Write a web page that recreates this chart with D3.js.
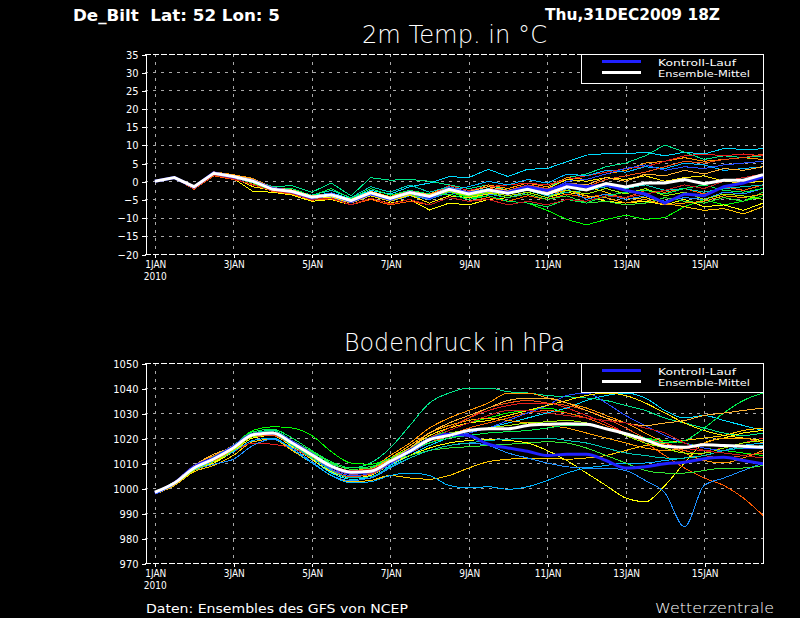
<!DOCTYPE html>
<html>
<head>
<meta charset="utf-8">
<script src="https://cdn.jsdelivr.net/npm/d3@7"></script>
<style>
  body { margin: 0; background: #000; }
  svg { display: block; background: #000; }
  text { white-space: pre; }
</style>
</head>
<body>
<div id="vis"></div>
<script>
const FRAME_WIDTH = 800;
const FRAME_HEIGHT = 618;
const PLOT_LEFT = 145;
const PLOT_RIGHT = 763;

// run start and step of the ensemble output
const RUN_START = Date.UTC(2009, 11, 31, 18);
const RUN_END = Date.UTC(2010, 0, 16, 12);
const FIRST_STEP = Date.UTC(2010, 0, 1, 0);
const STEP_HOURS = 12;

const TICK_DAYS = [1, 3, 5, 7, 9, 11, 13, 15];
const TICK_LABELS = ["1JAN", "3JAN", "5JAN", "7JAN", "9JAN", "11JAN", "13JAN", "15JAN"];
const TEMP_TICKS = [-20, -15, -10, -5, 0, 5, 10, 15, 20, 25, 30, 35];
const PRES_TICKS = [970, 980, 990, 1000, 1010, 1020, 1030, 1040, 1050];

const MEMBER_COLORS = ["#00dcff", "#00e68c", "#00ff00", "#ffff00", "#ffc800",
                       "#ff9600", "#ff5a00", "#e61e1e", "#1e90ff", "#00b4ff",
                       "#2850ff", "#32e632", "#ffe600", "#ffa000", "#f05014",
                       "#00c8b4", "#00f050", "#a0f000", "#ffb432", "#c81e1e"];

// 2m temperature, 12-hourly from 1 JAN 00Z
const TEMP_MEAN = [0, 1.0, -1.5, 2.2, 1.3, 0.0, -2.2, -2.8, -4.4, -3.7, -5.3, -3.2, -4.7, -3.1, -4.2, -2.2,
                   -3.5, -2.4, -3.3, -2.2, -3.5, -1.5, -2.4, -0.6, -1.6, -0.5, -0.5, 0.5, -0.7, 0.3, 0.3, 1.8];
const TEMP_CTRL = [0, 1.0, -1.6, 2.3, 1.2, 0.1, -2.0, -2.9, -4.6, -3.5, -5.6, -3.4, -5.0, -3.0, -4.5, -2.0,
                   -3.2, -2.5, -3.0, -1.5, -2.5, -0.8, -1.5, -1.0, -2.5, -3.5, -6.0, -3.5, -4.0, -1.5, -0.5, 1.3];
const T01 = [0, 1.1, -1.4, 2.4, 1.5, 0.3, -1.8, -2.5, -4.0, -3.2, -4.8, -2.5, -3.5, -1.5, -0.5, 1.3,
             1.0, 3.3, 1.3, 3.3, 3.5, 5.4, 7.2, 7.6, 7.5, 8.0, 7.0, 8.0, 7.5, 9.0, 8.8, 8.9];
const T02 = [0, 1.0, -1.3, 2.5, 1.6, 0.5, -1.5, -1.2, -3.0, -0.5, -4.0, 1.0, 0.3, 0.5, 0.0, -1.0,
             -2.0, -1.0, -2.5, -1.5, -2.0, 1.0, 2.0, 4.0, 5.0, 7.0, 10.0, 8.0, 6.0, 7.0, 6.5, 7.0];
const T03 = [0, 0.9, -1.7, 2.0, 1.0, -0.5, -2.5, -3.2, -4.8, -4.2, -6.0, -4.0, -5.5, -4.0, -5.0, -3.0,
             -4.5, -4.0, -5.5, -6.0, -8.0, -10.5, -12.0, -10.5, -9.3, -10.5, -10.0, -7.0, -5.0, -6.5, -5.5, -4.0];
const T04 = [0, 0.8, -2.0, 1.8, 0.8, -2.8, -3.0, -3.8, -5.5, -5.0, -6.5, -4.8, -6.0, -5.0, -7.9, -6.0,
             -6.5, -5.0, -4.5, -3.0, -4.5, -3.0, -4.0, -5.5, -6.0, -5.5, -6.5, -5.0, -7.0, -6.5, -8.0, -6.0];
const T05 = [0, 1.0, -1.5, 2.2, 1.2, 0.0, -2.3, -3.0, -4.5, -4.0, -5.5, -3.8, -5.0, -3.5, -5.0, -3.0,
             -4.0, -3.0, -3.5, -2.5, -3.0, -1.0, -1.5, -3.0, -5.0, -4.5, -6.0, -7.0, -8.0, -7.5, -9.0, -7.0];
const T06 = [0, 1.2, -1.5, 2.6, 1.8, 0.8, -1.8, -2.5, -4.0, -3.5, -5.0, -2.8, -4.2, -2.5, -3.5, -1.5,
             -3.0, -1.0, -2.0, -0.5, -1.5, 1.0, 0.5, 2.0, 3.0, 5.0, 5.5, 6.5, 5.5, 6.0, 6.5, 6.0];
const T07 = [0, 0.9, -2.2, 1.5, 0.5, -0.8, -2.8, -3.5, -5.2, -4.8, -6.5, -5.0, -6.5, -5.5, -6.5, -4.5,
             -5.5, -4.5, -5.5, -4.0, -5.0, -3.5, -4.5, -3.5, -4.5, -2.5, -3.0, -2.0, -3.5, -1.5, -2.5, -1.0];
const T08 = [0, 1.0, -1.6, 2.3, 1.4, 0.2, -2.0, -2.6, -4.3, -3.5, -5.0, -3.0, -4.5, -2.8, -3.8, -1.2,
             -2.5, -1.5, -1.0, -0.5, -1.0, 0.5, 1.5, 2.5, 3.5, 4.0, 5.5, 7.0, 7.5, 7.0, 7.5, 7.0];
const T09 = [0, 1.0, -1.5, 2.0, 1.0, -0.2, -2.5, -3.2, -5.0, -4.5, -6.0, -4.0, -5.5, -4.0, -5.0, -3.0,
             -4.0, -3.5, -4.5, -3.0, -4.5, -2.0, -5.0, -3.5, -5.0, -4.0, -5.5, -4.5, -5.0, -3.0, -3.5, -2.0];
const T10 = [0, 1.1, -1.4, 2.3, 1.3, 0.0, -2.1, -2.9, -4.6, -3.8, -5.4, -3.5, -4.8, -3.3, -4.4, -2.5,
             -1.5, 0.0, -1.0, 0.5, -0.5, 2.0, 1.5, 3.0, 2.5, 4.0, 3.5, 5.0, 4.5, 3.0, 3.5, 4.0];
const T11 = [0, 1.0, -1.5, 2.1, 1.2, -0.1, -2.3, -3.0, -4.7, -4.0, -5.8, -3.8, -5.2, -3.5, -4.7, -2.6,
             -3.8, -2.8, -3.6, -2.0, -3.0, 0.0, 0.5, 2.0, 3.5, 4.5, 3.0, 4.0, 3.5, 4.5, 5.0, 5.5];
const T12 = [0, 0.9, -1.8, 2.0, 1.0, -0.4, -2.4, -3.1, -4.6, -3.9, -5.7, -3.6, -5.3, -3.8, -4.6, -2.8,
             -4.2, -3.2, -4.5, -3.5, -5.0, -4.0, -6.0, -5.5, -6.5, -6.0, -4.5, -5.5, -6.0, -4.5, -5.5, -3.0];
const T13 = [0, 1.0, -1.7, 2.1, 1.1, -1.5, -2.5, -3.3, -5.0, -4.3, -6.0, -4.0, -5.5, -3.8, -6.0, -4.0,
             -4.5, -3.5, -3.0, -1.5, -2.0, 0.5, 0.0, 1.0, 0.5, 1.5, 0.0, 1.0, 1.5, 0.0, -0.5, 0.0];
const T14 = [0, 1.1, -1.3, 2.4, 1.5, 0.4, -1.9, -2.6, -4.2, -3.6, -5.2, -3.2, -4.6, -2.9, -4.0, -2.0,
             -3.5, -2.0, -3.0, -2.0, -3.5, -2.5, -4.0, -4.5, -6.0, -5.0, -6.5, -6.0, -5.5, -4.0, -4.5, -3.5];
const T15 = [0, 1.0, -1.6, 2.2, 1.3, 0.1, -2.1, -2.8, -4.5, -3.9, -5.5, -3.4, -4.9, -3.4, -4.3, -2.0,
             -3.0, -2.0, -2.5, -1.0, -2.0, -1.0, -1.5, 0.5, 1.5, 2.5, 4.0, 5.5, 5.0, 6.0, 6.5, 7.5];
const T16 = [0, 1.0, -1.5, 2.3, 1.4, 0.3, -1.8, -2.4, -3.8, -2.5, -4.5, -1.5, -3.0, -1.0, -3.0, -1.5,
             -3.0, -2.0, -3.5, -2.5, -4.0, -3.0, -2.5, -1.5, -2.0, -1.0, -2.5, -2.0, -3.0, -2.0, -1.5, -1.0];
const T17 = [0, 0.9, -1.6, 2.1, 1.1, -0.3, -2.2, -2.0, -4.0, -2.0, -4.8, -2.0, -3.8, -2.5, -3.5, -3.5,
             -5.0, -4.0, -5.5, -6.0, -7.0, -5.0, -6.0, -4.0, -3.0, -2.5, -3.5, -2.0, -1.0, -2.5, -3.0, -2.0];
const T18 = [0, 1.0, -1.5, 2.2, 1.2, -0.2, -2.3, -3.0, -4.5, -3.8, -5.5, -3.6, -5.0, -3.6, -4.5, -2.8,
             -4.0, -3.0, -4.0, -3.0, -4.5, -2.5, -3.5, -2.0, -3.5, -2.0, -4.0, -3.0, -5.0, -3.5, -4.0, -5.0];
const T19 = [0, 1.2, -1.4, 2.5, 1.6, 0.6, -1.7, -2.4, -4.0, -3.4, -5.0, -2.9, -4.4, -2.7, -3.7, -1.8,
             -2.8, -1.5, -2.5, -1.5, -3.0, -0.5, -1.0, 1.0, 0.0, 2.0, 1.5, 3.0, 2.0, 3.5, 3.0, 4.0];
const T20 = [0, 0.9, -2.0, 1.7, 0.7, -1.0, -2.6, -3.3, -5.0, -4.6, -6.5, -4.6, -6.2, -5.0, -6.5, -4.5,
             -5.5, -5.0, -6.5, -5.5, -6.5, -5.0, -5.5, -4.0, -4.5, -3.5, -2.5, -1.0, -2.0, 0.0, 1.0, 2.0];

// surface pressure, 12-hourly from 1 JAN 00Z
const PRES_MEAN = [998.3, 1002, 1008, 1011.6, 1016, 1021.3, 1022, 1018, 1013.3, 1008.7, 1006.3, 1006.7, 1010.7, 1014.7, 1019.3, 1021,
                   1023, 1023.7, 1023.7, 1025, 1025.5, 1025.7, 1025.5, 1023.7, 1021.7, 1019.3, 1016.7, 1016.3, 1017.3, 1017, 1016.7, 1016.3];
const PRES_CTRL = [998, 1002, 1008.5, 1012, 1016.5, 1021.5, 1022, 1018.5, 1013.5, 1008.5, 1006, 1006.5, 1010.5, 1015, 1019.5, 1021.5,
                   1021, 1017.5, 1016, 1014.7, 1013, 1013.5, 1013.5, 1011, 1008, 1008.5, 1009.7, 1010.3, 1011.7, 1012.3, 1011, 1009.7];
const P01 = [998, 1002, 1007.5, 1011, 1015.5, 1020.5, 1021.5, 1017, 1011.5, 1006, 1003.5, 1004, 1009, 1013, 1017, 1020,
             1022, 1024, 1026, 1028, 1030, 1032, 1035, 1037, 1038, 1036, 1031, 1028, 1029, 1027, 1025, 1023];
const P02 = [998.5, 1002.5, 1008.5, 1012, 1016.5, 1022, 1023, 1019, 1014, 1009.5, 1008, 1010, 1016, 1025, 1034, 1038,
             1040, 1040, 1038.5, 1038, 1037, 1036.5, 1036, 1035, 1033, 1031, 1028, 1026, 1024, 1022, 1021, 1022];
const P03 = [998.5, 1002, 1008, 1012.5, 1017, 1023, 1024.5, 1024, 1021, 1014.5, 1010, 1009.5, 1012, 1016, 1020, 1023,
             1026, 1028, 1030, 1031, 1032, 1030, 1028, 1025, 1022, 1020, 1019, 1018, 1016, 1015, 1014, 1013];
const P04 = [998, 1001.5, 1007, 1010, 1014.5, 1020, 1021, 1016.5, 1011.5, 1006.5, 1004, 1005, 1009.5, 1013, 1016, 1018,
             1019, 1019.5, 1019, 1018, 1015, 1011, 1006, 1001, 996, 994.5, 1001, 1010, 1018, 1020, 1022, 1023];
const P05 = [997.5, 1001, 1006.5, 1009, 1013, 1018.5, 1019.5, 1015, 1010, 1005, 1002.5, 1003, 1005, 1004, 1003.5, 1005,
             1008, 1010.5, 1011.5, 1012, 1012, 1011.5, 1012, 1013, 1015, 1017, 1018, 1019, 1020, 1021, 1023, 1024];
const P06 = [998.5, 1002.5, 1009, 1013, 1017, 1022, 1022.5, 1018.5, 1013.5, 1009, 1007, 1008, 1013, 1018, 1024, 1028,
             1031, 1034, 1038, 1038, 1036, 1034, 1032, 1029, 1026, 1022, 1018, 1014, 1011, 1010, 1012, 1015];
const P07 = [998, 1002, 1008, 1011.5, 1016, 1021, 1022, 1017.5, 1013, 1008, 1005.5, 1006, 1010, 1014, 1018, 1021,
             1024, 1026, 1028, 1030, 1031, 1030, 1028, 1025, 1022, 1018, 1013, 1008, 1004, 1001, 996, 989];
const P08 = [998, 1001.5, 1007, 1010.5, 1014.5, 1018, 1017.5, 1016, 1012, 1008, 1006, 1007, 1011, 1015, 1020, 1024,
             1028, 1031, 1033, 1034, 1034, 1032, 1029, 1026, 1022, 1020, 1018, 1016, 1015, 1016, 1018, 1020];
const P09 = [998, 1001.5, 1007, 1009.5, 1011.5, 1017, 1019.5, 1016, 1010.5, 1005, 1003, 1004, 1008, 1012, 1015, 1017,
             1018, 1017, 1014, 1012, 1010, 1008.5, 1008, 1008, 1007, 1003, 998, 984.5, 1001, 1004, 1007, 1010];
const P10 = [997.5, 1001.5, 1007.5, 1010.5, 1014.5, 1019, 1020, 1015.5, 1010, 1005, 1002, 1002.5, 1005, 1006, 1005, 1001,
             1000, 1000.5, 999.5, 1000.5, 1003, 1006, 1008, 1009, 1010, 1010, 1011, 1012, 1013, 1015, 1017, 1018];
const P11 = [998, 1002, 1008, 1011.5, 1016, 1021, 1021.5, 1017.5, 1012.5, 1007.5, 1005, 1005.5, 1009.5, 1014, 1018, 1020,
             1022, 1024, 1027, 1030, 1033, 1037, 1038, 1034, 1029, 1025, 1021, 1018, 1016, 1015, 1016, 1016];
const P12 = [998.5, 1002.5, 1008.5, 1012, 1016.5, 1022, 1022.5, 1019, 1014.5, 1010, 1007.5, 1008, 1011, 1013, 1015, 1016,
             1016.5, 1017, 1017.5, 1018, 1018.5, 1018, 1016, 1013, 1010, 1007, 1006, 1006, 1007, 1008, 1008, 1009];
const P13 = [998, 1002, 1008, 1011.5, 1015.5, 1021, 1022, 1017.5, 1012.5, 1008, 1006, 1007, 1011, 1016, 1021, 1024,
             1026, 1027, 1029, 1031, 1033, 1035, 1037, 1038, 1037, 1034, 1030, 1026, 1023, 1021, 1020, 1019];
const P14 = [998.5, 1002, 1008, 1012, 1016, 1021.5, 1022, 1018, 1013, 1008.5, 1006.5, 1007.5, 1012, 1017, 1022, 1025,
             1027, 1028, 1027, 1026, 1025, 1024, 1022, 1020, 1018, 1016, 1015, 1016, 1018, 1020, 1020, 1018];
const P15 = [998, 1002, 1008, 1011, 1015.5, 1020.5, 1021, 1017, 1012, 1007, 1004.5, 1005.5, 1010, 1015, 1020, 1024,
             1028, 1032, 1034, 1035, 1034, 1033, 1031, 1028, 1024, 1020, 1017, 1015, 1013, 1012, 1013, 1014];
const P16 = [998, 1002, 1008, 1012, 1016, 1021, 1021.5, 1017, 1012, 1007, 1004, 1004.5, 1008.5, 1012, 1015, 1017,
             1018, 1019, 1019.5, 1020, 1020, 1019, 1018, 1016, 1014, 1013, 1012, 1012, 1013, 1015, 1016, 1017];
const P17 = [998.5, 1002.5, 1008.5, 1012.5, 1017, 1022.5, 1023.5, 1020, 1015, 1010.5, 1008, 1008.5, 1012, 1015, 1018, 1020,
             1021, 1022, 1022.5, 1023, 1024, 1025, 1025, 1024, 1022, 1020, 1018, 1019, 1024, 1030, 1035, 1038];
const P18 = [998, 1001.5, 1007, 1010.5, 1015, 1020.5, 1021.5, 1017.5, 1012.5, 1008, 1006, 1007, 1011.5, 1016, 1020, 1022,
             1023, 1024, 1025, 1026, 1026.5, 1027, 1026, 1024, 1021, 1018, 1016, 1014, 1014, 1016, 1018, 1019];
const P19 = [998.5, 1002.5, 1009, 1013.5, 1016.5, 1021.5, 1022, 1018, 1013, 1008.5, 1006, 1006.5, 1011, 1016, 1022, 1026,
             1029, 1032, 1035, 1036, 1036, 1034, 1031, 1028, 1026, 1025, 1026, 1027, 1029, 1030, 1031, 1032];
const P20 = [998, 1002, 1008, 1011.5, 1016, 1021, 1021.5, 1018, 1013.5, 1009, 1007, 1007.5, 1011, 1015, 1019, 1023,
             1026, 1029, 1031, 1031, 1030, 1029, 1028, 1027, 1026, 1024, 1022, 1018, 1015, 1014, 1013, 1012];

const TEMP_MEMBERS = [T01, T02, T03, T04, T05, T06, T07, T08, T09, T10, T11, T12, T13, T14, T15, T16, T17, T18, T19, T20];
const PRES_MEMBERS = [P01, P02, P03, P04, P05, P06, P07, P08, P09, P10, P11, P12, P13, P14, P15, P16, P17, P18, P19, P20];

const FONT = "DejaVu Sans";

const SVG = d3.select("#vis")
              .append("svg")
                .attr("width", FRAME_WIDTH)
                .attr("height", FRAME_HEIGHT);

const X_SCALE = d3.scaleUtc()
                  .domain([new Date(RUN_START), new Date(RUN_END)])
                  .range([PLOT_LEFT, PLOT_RIGHT]);

const TICK_DATES = TICK_DAYS.map((d) => new Date(Date.UTC(2010, 0, d)));

function timeAt(i) {
    return new Date(FIRST_STEP + i * STEP_HOURS * 3600 * 1000);
}

function addText(x, y, str, size, opts) {
    opts = opts || {};
    const t = SVG.append("text")
        .attr("x", x)
        .attr("y", y)
        .attr("fill", "#fff")
        .attr("font-family", FONT)
        .attr("font-size", size)
        .attr("font-weight", opts.weight || "normal")
        .text(str);
    if (opts.len) {
        t.attr("textLength", opts.len).attr("lengthAdjust", "spacingAndGlyphs");
    }
    return t;
}

function panel(cfg) {
    const Y_SCALE = d3.scaleLinear()
                      .domain([cfg.ticks[0], cfg.ticks[cfg.ticks.length - 1]])
                      .range([cfg.bottom, cfg.top]);

    SVG.append("clipPath")
        .attr("id", cfg.id)
      .append("rect")
        .attr("x", PLOT_LEFT)
        .attr("y", cfg.top)
        .attr("width", PLOT_RIGHT - PLOT_LEFT)
        .attr("height", cfg.bottom - cfg.top);

    // dotted grid
    const grid = SVG.append("g")
        .attr("stroke", "#a8a8a8")
        .attr("stroke-width", 1)
        .attr("stroke-dasharray", "3,5")
        .attr("shape-rendering", "crispEdges");

    grid.selectAll(".hgrid")
        .data(cfg.ticks.slice(1, -1))
        .enter()
        .append("line")
          .attr("x1", PLOT_LEFT)
          .attr("x2", PLOT_RIGHT)
          .attr("y1", (d) => Math.round(Y_SCALE(d)) + 0.5)
          .attr("y2", (d) => Math.round(Y_SCALE(d)) + 0.5);

    grid.selectAll(".vgrid")
        .data(TICK_DATES)
        .enter()
        .append("line")
          .attr("x1", (d) => Math.round(X_SCALE(d)) + 0.5)
          .attr("x2", (d) => Math.round(X_SCALE(d)) + 0.5)
          .attr("y1", cfg.top)
          .attr("y2", cfg.bottom);

    // ensemble members, then control run and mean
    const line = d3.line()
        .x((d, i) => X_SCALE(timeAt(i)))
        .y((d) => Y_SCALE(d))
        .curve(cfg.curve);

    const lines = SVG.append("g").attr("clip-path", "url(#" + cfg.id + ")");

    lines.selectAll(".member")
        .data(cfg.members)
        .enter()
        .append("path")
          .attr("d", line)
          .attr("fill", "none")
          .attr("stroke", (d, i) => MEMBER_COLORS[i])
          .attr("stroke-width", 1)
          .attr("shape-rendering", "crispEdges");

    lines.append("path")
        .attr("d", line(cfg.ctrl))
        .attr("fill", "none")
        .attr("stroke", "#2020ff")
        .attr("stroke-width", 3);

    lines.append("path")
        .attr("d", line(cfg.mean))
        .attr("fill", "none")
        .attr("stroke", "#fff")
        .attr("stroke-width", 3);

    // frame: dashed top and bottom, solid sides
    SVG.append("g")
        .attr("stroke", "#fff")
        .attr("stroke-width", 1)
        .attr("stroke-dasharray", "6,2")
        .attr("shape-rendering", "crispEdges")
        .selectAll("line")
        .data([cfg.top, cfg.bottom])
        .enter()
        .append("line")
          .attr("x1", PLOT_LEFT)
          .attr("x2", PLOT_RIGHT)
          .attr("y1", (d) => d + 0.5)
          .attr("y2", (d) => d + 0.5);

    SVG.append("line")
        .attr("x1", PLOT_RIGHT + 0.5)
        .attr("x2", PLOT_RIGHT + 0.5)
        .attr("y1", cfg.top)
        .attr("y2", cfg.bottom + 1)
        .attr("stroke", "#fff")
        .attr("shape-rendering", "crispEdges");

    // y axis
    const yAxis = SVG.append("g")
        .attr("transform", "translate(" + (PLOT_LEFT + 0.5) + ",0.5)")
        .call(d3.axisLeft(Y_SCALE)
                .tickValues(cfg.ticks)
                .tickFormat(d3.format("d"))
                .tickSize(4)
                .tickSizeOuter(0)
                .tickPadding(3));
    yAxis.selectAll("path, line").attr("stroke", "#fff").attr("shape-rendering", "crispEdges");
    yAxis.selectAll("text")
        .attr("fill", "#fff")
        .attr("font-family", FONT)
        .attr("font-stretch", "condensed")
        .attr("font-size", "11px");

    // x axis
    const xAxis = SVG.append("g")
        .attr("transform", "translate(0.5," + (cfg.bottom + 0.5) + ")")
        .call(d3.axisBottom(X_SCALE)
                .tickValues(TICK_DATES)
                .tickFormat((d, i) => TICK_LABELS[i])
                .tickSize(3)
                .tickPadding(3.5));
    xAxis.select(".domain").remove();
    xAxis.selectAll("line").attr("stroke", "#fff").attr("shape-rendering", "crispEdges");
    xAxis.selectAll("text")
        .attr("fill", "#fff")
        .attr("font-family", FONT)
        .attr("font-stretch", "condensed")
        .attr("font-size", "10px");
    xAxis.append("text")
        .attr("x", X_SCALE(TICK_DATES[0]))
        .attr("y", 25)
        .attr("text-anchor", "middle")
        .attr("fill", "#fff")
        .attr("font-family", FONT)
        .attr("font-stretch", "condensed")
        .attr("font-size", "10px")
        .text("2010");

    // legend
    const lg = SVG.append("g");
    lg.append("rect")
        .attr("x", 581.5)
        .attr("y", cfg.top + 0.5)
        .attr("width", 182)
        .attr("height", 29)
        .attr("fill", "#000")
        .attr("stroke", "#fff")
        .attr("shape-rendering", "crispEdges");
    lg.append("line")
        .attr("x1", 602).attr("x2", 641)
        .attr("y1", cfg.top + 7.5).attr("y2", cfg.top + 7.5)
        .attr("stroke", "#2020ff").attr("stroke-width", 3);
    lg.append("line")
        .attr("x1", 602).attr("x2", 641)
        .attr("y1", cfg.top + 18.5).attr("y2", cfg.top + 18.5)
        .attr("stroke", "#fff").attr("stroke-width", 3);
    addText(658, cfg.top + 11.5, "Kontroll-Lauf", "9.5px", {len: 78});
    addText(658, cfg.top + 23, "Ensemble-Mittel", "9.5px", {len: 92});

    addText(cfg.titleX, cfg.titleY, cfg.title, cfg.titleSize, {weight: 200, len: cfg.titleLen});
}

// header
addText(73, 20.5, "De_Bilt  Lat: 52 Lon: 5", "16px", {weight: "bold", len: 207});
addText(545, 19.5, "Thu,31DEC2009 18Z", "16px", {weight: "bold", len: 175});

panel({
    id: "clipTemp",
    top: 54,
    bottom: 254,
    ticks: TEMP_TICKS,
    members: TEMP_MEMBERS,
    ctrl: TEMP_CTRL,
    mean: TEMP_MEAN,
    curve: d3.curveLinear,
    title: "2m Temp. in °C",
    titleX: 362,
    titleY: 42.5,
    titleSize: "24px",
    titleLen: 185
});

panel({
    id: "clipPres",
    top: 363,
    bottom: 563,
    ticks: PRES_TICKS,
    members: PRES_MEMBERS,
    ctrl: PRES_CTRL,
    mean: PRES_MEAN,
    curve: d3.curveMonotoneX,
    title: "Bodendruck in hPa",
    titleX: 344,
    titleY: 351,
    titleSize: "25px",
    titleLen: 221
});

// footer
addText(146, 613, "Daten: Ensembles des GFS von NCEP", "12px", {len: 262});
addText(655, 613, "Wetterzentrale", "14px", {weight: 200, len: 119});
</script>
</body>
</html>
